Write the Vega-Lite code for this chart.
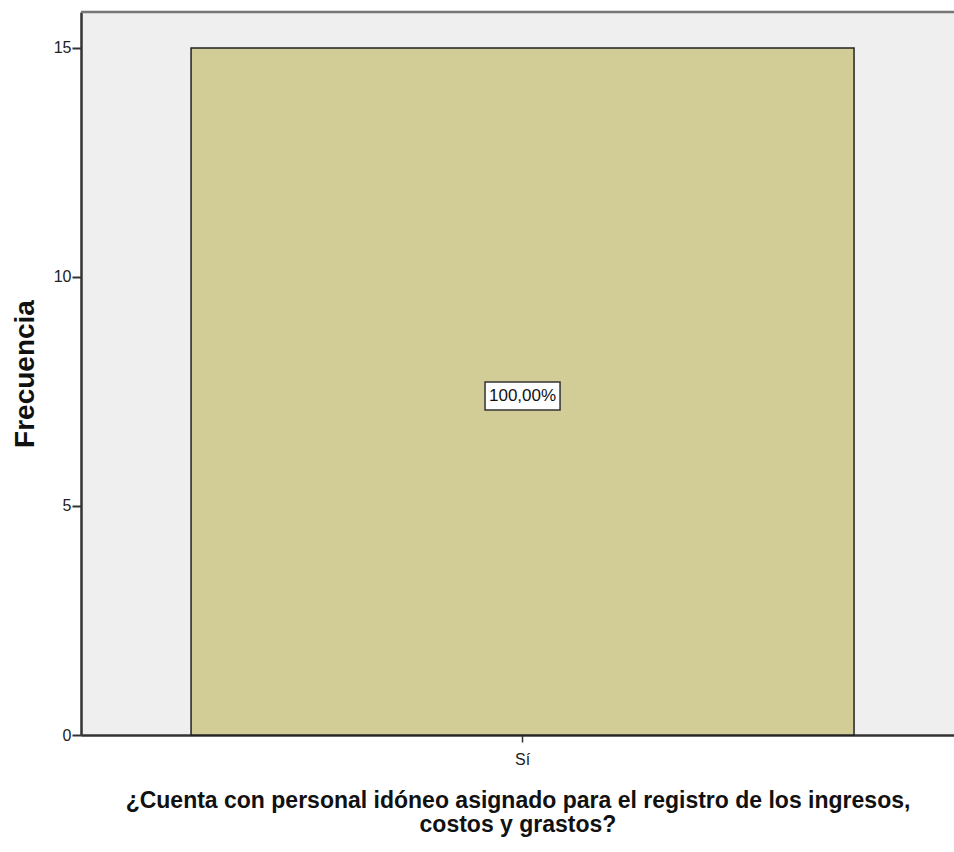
{
  "$schema": "https://vega.github.io/schema/vega-lite/v6.json",
  "autosize": {"type": "none"},
  "padding": {"left": 81, "top": 12, "right": 0, "bottom": 117},
  "width": 873,
  "height": 723,
  "background": "white",
  "config": {
    "view": {"fill": "#EFEFEF", "stroke": null},
    "font": "Liberation Sans"
  },
  "data": {"values": [{"respuesta": "Sí", "frecuencia": 15, "porcentaje": "100,00%", "pos": 7.4}]},
  "layer": [
    {
      "mark": {"type": "rule", "color": "#777777", "strokeWidth": 2.5},
      "encoding": {"y": {"datum": 15.786, "type": "quantitative"}}
    },
    {
      "mark": {"type": "bar", "fill": "#D2CD96", "stroke": "#222222", "strokeWidth": 1.5},
      "encoding": {
        "x": {
          "field": "respuesta", "type": "nominal",
          "scale": {"paddingInner": 0, "paddingOuter": 0.1584, "align": 0.524},
          "axis": {
            "labelAngle": 0, "labelFont": "Liberation Sans", "labelFontSize": 16, "labelColor": "#222",
            "domainColor": "#333", "domainWidth": 2.5, "tickColor": "#333", "tickSize": 7, "tickWidth": 1.5,
            "labelPadding": 9,
            "title": ["¿Cuenta con personal idóneo asignado para el registro de los ingresos,", "costos y grastos?"],
            "titleFont": "Liberation Sans", "titleFontSize": 23, "titleFontWeight": "bold",
            "titleColor": "#111", "titlePadding": 22, "titleLineHeight": 24
          }
        },
        "y": {
          "field": "frecuencia", "type": "quantitative",
          "scale": {"domain": [0, 15.786], "nice": false},
          "axis": {
            "values": [0, 5, 10, 15], "grid": false,
            "labelFont": "Liberation Sans", "labelFontSize": 16, "labelColor": "#222",
            "domainColor": "#333", "domainWidth": 2.5, "tickColor": "#333", "tickSize": 9, "tickWidth": 2,
            "labelPadding": 1,
            "title": "Frecuencia", "titleFont": "Liberation Sans", "titleFontSize": 28,
            "titleFontWeight": "bold", "titleColor": "#111", "titlePadding": 14
          }
        }
      }
    },
    {
      "mark": {"type": "point", "filled": true, "fill": "white", "stroke": "#333", "strokeWidth": 1.5, "opacity": 1,
        "shape": "M-1,-0.373L1,-0.373L1,0.373L-1,0.373Z", "size": 5625},
      "encoding": {
        "x": {"field": "respuesta", "type": "nominal"},
        "y": {"field": "pos", "type": "quantitative"}
      }
    },
    {
      "mark": {"type": "text", "font": "Liberation Sans", "fontSize": 17, "color": "#111", "baseline": "middle", "align": "center"},
      "encoding": {
        "x": {"field": "respuesta", "type": "nominal"},
        "y": {"field": "pos", "type": "quantitative"},
        "text": {"field": "porcentaje"}
      }
    }
  ]
}
